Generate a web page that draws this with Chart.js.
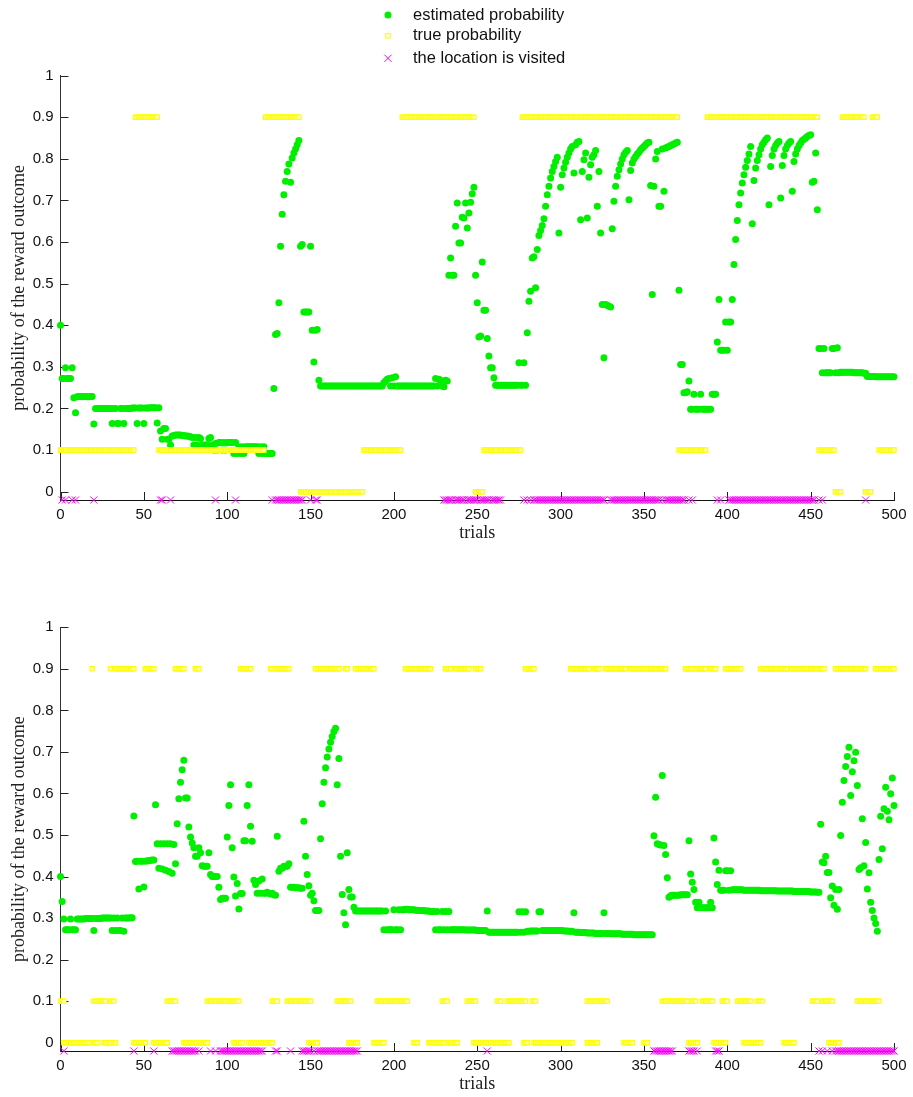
<!DOCTYPE html>
<html>
<head>
<meta charset="utf-8">
<script src="https://cdn.jsdelivr.net/npm/chart.js@4/dist/chart.umd.min.js"></script>
<style>
html, body { margin: 0; padding: 0; background: #fff; }
#wrap { position: relative; width: 913px; height: 1097px; }
.panel { position: absolute; left: 0; width: 913px; }
#top { top: 0; height: 551px; }
#bottom { top: 551px; height: 546px; }
</style>
</head>
<body>
<div id="wrap">
  <div class="panel" id="top"><canvas id="chart-top"></canvas></div>
  <div class="panel" id="bottom"><canvas id="chart-bottom"></canvas></div>
</div>
<script>
// axis ticks
const xTicks = [0, 50, 100, 150, 200, 250, 300, 350, 400, 450, 500];
const yTicks = [0, 0.1, 0.2, 0.3, 0.4, 0.5, 0.6, 0.7, 0.8, 0.9, 1];
const legendLabels = ['estimated probability', 'true probability', 'the location is visited'];
const visitedLevel = -0.02;

// estimated probability, one value per trial (0..500) - top panel
const estTop = [
  .40,.272,.272,.298,.272,.272,.272,.298,.226,.19,
  .228,.229,.229,.228,.229,.229,.228,.228,.229,.229,
  .163,.2,.2,.2,.2,.2,.2,.2,.2,.2,
  .2,.164,.2,.2,.164,.164,.2,.2,.164,.2,
  .2,.2,.2,.201,.201,.201,.164,.201,.201,.201,
  .164,.201,.201,.201,.202,.202,.202,.202,.165,.202,
  .146,.126,.152,.152,.126,.126,.112,.134,.135,.136,
  .136,.136,.136,.135,.135,.134,.134,.133,.132,.13,
  .112,.13,.112,.13,.128,.112,.112,.112,.112,.128,
  .13,.112,.1,.116,.1,.118,.118,.1,.118,.1,
  .118,.118,.118,.118,.092,.118,.092,.108,.092,.108,
  .092,.108,.108,.108,.108,.108,.108,.108,.108,.092,
  .108,.092,.108,.092,.092,.092,.092,.092,.248,.378,
  .38,.454,.59,.667,.714,.746,.77,.788,.744,.802,
  .814,.824,.834,.844,.59,.594,.432,.432,.432,.432,
  .59,.388,.312,.388,.39,.268,.254,.254,.254,.254,
  .254,.254,.254,.254,.254,.254,.254,.254,.254,.254,
  .254,.254,.254,.254,.254,.254,.254,.254,.254,.254,
  .254,.254,.254,.254,.254,.254,.254,.254,.254,.254,
  .254,.254,.254,.254,.262,.266,.27,.272,.254,.274,
  .254,.276,.254,.254,.254,.254,.254,.254,.254,.254,
  .254,.254,.254,.254,.254,.254,.254,.254,.254,.254,
  .254,.254,.254,.254,.254,.272,.254,.27,.268,.254,
  .252,.268,.266,.52,.562,.52,.52,.638,.694,.598,
  .598,.66,.658,.694,.634,.67,.696,.716,.732,.52,
  .454,.372,.374,.552,.436,.436,.368,.326,.298,.298,
  .274,.256,.256,.256,.256,.256,.256,.256,.256,.256,
  .256,.256,.256,.256,.256,.31,.256,.256,.31,.256,
  .382,.458,.482,.562,.565,.49,.582,.616,.628,.64,
  .656,.686,.714,.734,.754,.77,.782,.794,.804,.622,
  .732,.762,.778,.792,.804,.814,.824,.83,.766,.834,
  .84,.842,.654,.77,.798,.814,.658,.756,.786,.804,
  .81,.82,.686,.77,.622,.45,.322,.45,.448,.446,
  .444,.632,.698,.734,.758,.774,.788,.8,.81,.816,
  .82,.702,.772,.79,.8,.806,.812,.816,.822,.826,
  .83,.834,.838,.84,.736,.474,.734,.8,.818,.686,
  .686,.824,.722,.826,.828,.83,.832,.834,.836,.838,
  .84,.484,.306,.306,.238,.238,.24,.266,.198,.198,
  .234,.198,.198,.198,.234,.198,.198,.198,.198,.198,
  .198,.234,.234,.234,.36,.462,.34,.34,.34,.408,
  .34,.408,.408,.462,.546,.606,.652,.69,.718,.742,
  .762,.78,.796,.812,.83,.644,.748,.778,.796,.81,
  .824,.834,.84,.846,.85,.69,.782,.808,.824,.832,
  .838,.842,.706,.784,.808,.824,.832,.838,.842,.722,
  .794,.812,.824,.832,.838,.844,.847,.85,.854,.856,
  .858,.744,.746,.814,.678,.344,.344,.286,.344,.286,
  .286,.286,.286,.344,.344,.286,.346,.286,.287,.287,
  .287,.287,.287,.287,.287,.287,.286,.286,.286,.286,
  .286,.286,.285,.285,.277,.277,.277,.277,.277,.276,
  .276,.276,.276,.276,.276,.276,.276,.276,.276,.276,
  .276
];

// true probability runs [first trial, last trial] - top panel
const trueTopHigh = [[45,58],[123,143],[205,248],[277,370],[388,454],[469,482],[487,490]];
const trueTopLow = [[0,44],[59,122],[182,204],[254,276],[371,387],[455,464],[491,500]];
const trueTopZero = [[144,181],[249,253],[465,468],[483,486]];

// visited trials runs - top panel
const visitedTop = [[1,1],[3,3],[7,7],[9,9],[20,20],[60,61],[66,66],[93,93],[105,105],[127,127],
  [129,145],[150,150],[153,154],[230,235],[237,242],[244,250],[252,257],[259,264],[278,278],
  [280,280],[282,282],[284,326],[330,359],[361,361],[363,374],[377,377],[379,379],[394,394],
  [396,396],[401,452],[455,455],[457,457],[483,483]];

// estimated probability - bottom panel
const estBottom = [
  .40,.34,.298,.272,.272,.272,.298,.272,.272,.272,
  .298,.298,.298,.298,.298,.299,.299,.299,.299,.299,
  .27,.299,.299,.299,.299,.3,.3,.3,.3,.3,
  .3,.27,.3,.27,.3,.27,.27,.3,.268,.3,
  .3,.3,.301,.301,.546,.436,.437,.37,.437,.437,
  .375,.437,.438,.438,.439,.44,.44,.573,.479,.42,
  .479,.418,.479,.415,.479,.412,.479,.408,.477,.431,
  .527,.587,.627,.657,.68,.589,.589,.519,.495,.481,
  .469,.449,.449,.469,.457,.426,.425,.425,.425,.457,
  .405,.4,.4,.4,.4,.374,.345,.348,.348,.348,
  .495,.571,.621,.469,.399,.353,.383,.322,.359,.359,
  .486,.486,.571,.621,.521,.485,.391,.381,.36,.389,
  .36,.394,.36,.36,.362,.36,.358,.36,.356,.355,
  .497,.413,.42,.42,.425,.425,.425,.431,.374,.374,
  .374,.373,.373,.373,.372,.372,.533,.449,.405,.378,
  .355,.36,.342,.318,.318,.318,.491,.575,.627,.662,
  .688,.707,.723,.737,.749,.757,.621,.684,.449,.357,
  .313,.284,.457,.369,.351,.351,.326,.317,.317,.317,
  .317,.317,.317,.317,.317,.317,.317,.317,.317,.317,
  .317,.317,.317,.317,.272,.317,.272,.272,.272,.272,
  .32,.272,.272,.32,.272,.32,.32,.321,.321,.32,
  .32,.32,.32,.319,.319,.318,.318,.318,.318,.317,
  .317,.317,.316,.316,.316,.272,.316,.272,.272,.316,
  .272,.316,.272,.316,.272,.272,.272,.272,.272,.272,
  .272,.272,.272,.271,.271,.271,.271,.271,.271,.271,
  .27,.27,.27,.27,.27,.27,.317,.266,.266,.266,
  .266,.266,.266,.266,.266,.266,.266,.266,.266,.266,
  .266,.266,.266,.266,.266,.315,.266,.315,.266,.315,
  .268,.268,.269,.269,.269,.269,.269,.315,.315,.27,
  .27,.27,.27,.27,.27,.27,.27,.27,.27,.27,
  .27,.27,.269,.269,.269,.268,.268,.268,.313,.266,
  .266,.266,.265,.265,.265,.265,.264,.264,.264,.264,
  .264,.263,.263,.263,.263,.263,.313,.263,.263,.263,
  .262,.262,.262,.262,.262,.262,.262,.261,.261,.261,
  .261,.261,.261,.261,.26,.26,.26,.26,.26,.26,
  .26,.26,.26,.26,.26,.26,.498,.591,.479,.477,
  .476,.643,.475,.453,.397,.35,.354,.355,.355,.355,
  .355,.355,.356,.356,.356,.356,.356,.486,.406,.386,
  .369,.338,.325,.338,.325,.325,.325,.325,.325,.325,
  .338,.325,.493,.435,.381,.415,.367,.367,.367,.414,
  .414,.367,.414,.368,.368,.368,.368,.368,.368,.368,
  .367,.367,.367,.367,.367,.367,.367,.367,.367,.367,
  .366,.366,.366,.366,.366,.366,.366,.366,.366,.366,
  .365,.365,.365,.365,.365,.365,.365,.365,.365,.365,
  .364,.364,.364,.364,.364,.364,.364,.364,.364,.364,
  .363,.363,.363,.363,.362,.362,.526,.435,.433,.449,
  .41,.41,.349,.377,.331,.369,.321,.369,.499,.579,
  .631,.665,.689,.711,.595,.652,.679,.699,.619,.417,
  .421,.539,.426,.482,.37,.409,.338,.318,.3,.287,
  .268,.441,.545,.467,.563,.615,.557,.537,.599,.637,
  .571
];

const trueBottomHigh = [[19,19],[30,30],[33,44],[51,56],[69,74],[81,83],[108,114],[126,127],[129,137],
  [153,167],[171,172],[177,188],[207,222],[231,234],[237,245],[249,252],[279,284],[306,317],[320,323],
  [327,339],[342,363],[375,379],[381,387],[390,393],[399,408],[420,436],[438,458],[465,483],[489,500]];
const trueBottomLow = [[0,2],[20,27],[30,32],[64,69],[88,107],[127,130],[136,150],[166,174],[190,208],
  [229,232],[244,249],[262,264],[268,279],[283,285],[316,328],[361,376],[379,381],[385,391],[397,400],
  [406,414],[418,421],[451,454],[457,463],[478,491]];
const trueBottomZero = [[2,17],[20,22],[26,30],[32,33],[44,51],[56,64],[74,88],[104,109],[113,127],
  [149,154],[173,178],[188,194],[212,214],[221,230],[233,238],[248,269],[278,280],[284,307],[316,322],
  [338,343],[350,352],[377,382],[392,399],[410,420],[434,440],[461,467]];

const visitedBottom = [[2,2],[44,44],[56,56],[67,81],[83,83],[90,90],[93,93],[96,121],[129,130],
  [138,138],[145,150],[152,152],[154,178],[256,256],[356,367],[377,380],[382,382],[393,395],
  [455,455],[457,457],[460,460],[463,463],[465,500]];

function seriesPoints(values) {
  return values.map((v, i) => ({x: i, y: v}));
}

function runPoints(runs, value) {
  let pts = [];
  runs.forEach(([a, b]) => {
    for (let t = a; t <= b; t++) pts.push({x: t, y: value});
  });
  return pts;
}

const sansFont = "'Liberation Sans', Arial, sans-serif";
const serifFont = "'Liberation Serif', 'Times New Roman', serif";
const green = '#00ee00';
const yellow = '#ffff00';
const magenta = '#ff00ff';

// short ticks pointing into the plot
const inwardTicks = {
  id: 'inwardTicks',
  beforeDatasetsDraw(chart) {
    const {ctx, chartArea, scales} = chart;
    ctx.save();
    ctx.strokeStyle = '#222';
    ctx.lineWidth = 1;
    ctx.beginPath();
    xTicks.forEach(v => {
      let px = Math.round(scales.x.getPixelForValue(v)) + 0.5;
      ctx.moveTo(px, chartArea.bottom);
      ctx.lineTo(px, chartArea.bottom - 8);
    });
    yTicks.forEach(v => {
      let py = Math.round(scales.y.getPixelForValue(v)) + 0.5;
      ctx.moveTo(chartArea.left, py);
      ctx.lineTo(chartArea.left + 8, py);
    });
    ctx.stroke();
    ctx.restore();
  }
};

// legend stacked above the top panel
const stackedLegend = {
  id: 'stackedLegend',
  afterDraw(chart, args, opts) {
    if (!opts.show) return;
    const ctx = chart.ctx;
    const mx = 388, tx = 413;
    const rows = [15, 35.7, 58.3];
    ctx.save();
    ctx.fillStyle = green;
    ctx.beginPath();
    ctx.arc(mx, rows[0], 3.5, 0, Math.PI * 2);
    ctx.fill();
    ctx.strokeStyle = yellow;
    ctx.fillStyle = '#fff';
    ctx.lineWidth = 1.2;
    ctx.fillRect(mx - 2.2, rows[1] - 2.2, 4.4, 4.4);
    ctx.strokeRect(mx - 2.2, rows[1] - 2.2, 4.4, 4.4);
    ctx.strokeStyle = magenta;
    ctx.lineWidth = 1;
    ctx.beginPath();
    ctx.moveTo(mx - 3.6, rows[2] - 3.6); ctx.lineTo(mx + 3.6, rows[2] + 3.6);
    ctx.moveTo(mx + 3.6, rows[2] - 3.6); ctx.lineTo(mx - 3.6, rows[2] + 3.6);
    ctx.stroke();
    ctx.fillStyle = '#111';
    ctx.font = "16.5px " + sansFont;
    ctx.textAlign = 'left';
    ctx.textBaseline = 'middle';
    legendLabels.forEach((label, i) => ctx.fillText(label, tx, rows[i]));
    ctx.restore();
  }
};

function makeChart(canvasId, est, high, low, zero, visited, padTop, padBottom, showLegend) {
  const ctx = document.getElementById(canvasId).getContext('2d');
  return new Chart(ctx, {
    type: 'scatter',
    data: {
      datasets: [
        {
          label: legendLabels[2],
          data: runPoints(visited, visitedLevel),
          pointStyle: 'crossRot',
          pointRadius: 5,
          borderColor: magenta,
          backgroundColor: magenta,
          borderWidth: 1,
          clip: false,
          order: 1
        },
        {
          label: legendLabels[1],
          data: runPoints(high, 0.9).concat(runPoints(low, 0.1), runPoints(zero, 0)),
          pointStyle: 'rect',
          pointRadius: 3,
          borderColor: yellow,
          backgroundColor: '#ffffd0',
          borderWidth: 1.2,
          clip: false,
          order: 2
        },
        {
          label: legendLabels[0],
          data: seriesPoints(est),
          pointStyle: 'circle',
          pointRadius: 3.5,
          borderWidth: 0,
          backgroundColor: green,
          clip: false,
          order: 3
        }
      ]
    },
    options: {
      responsive: true,
      maintainAspectRatio: false,
      animation: false,
      events: [],
      layout: {padding: {top: padTop, bottom: padBottom, left: 0, right: 19}},
      plugins: {
        legend: {display: false},
        tooltip: {enabled: false},
        stackedLegend: {show: showLegend}
      },
      scales: {
        x: {
          type: 'linear',
          position: 'bottom',
          min: 0,
          max: 500,
          afterBuildTicks: s => { s.ticks = xTicks.map(v => ({value: v})); },
          afterFit: s => { s.height = 46; },
          grid: {display: false, drawTicks: false},
          border: {display: true, color: '#111', width: 1},
          ticks: {color: '#111', padding: 6, maxRotation: 0, autoSkip: false,
                  font: {family: sansFont, size: 15}},
          title: {display: true, text: 'trials', color: '#222',
                  font: {family: serifFont, size: 18}, padding: {top: 0, bottom: 2}}
        },
        y: {
          type: 'linear',
          min: -0.02,
          max: 1,
          afterBuildTicks: s => { s.ticks = yTicks.map(v => ({value: v})); },
          afterFit: s => { s.width = 60.5; },
          grid: {display: false, drawTicks: false},
          border: {display: true, color: '#333', width: 1},
          ticks: {color: '#111', padding: 7, autoSkip: false,
                  font: {family: sansFont, size: 15},
                  callback: v => String(Math.round(v * 10) / 10)},
          title: {display: true, text: 'probability of the reward outcome', color: '#222',
                  font: {family: serifFont, size: 18}, padding: {top: 8, bottom: 0}}
        }
      }
    },
    plugins: [inwardTicks, stackedLegend]
  });
}

makeChart('chart-top', estTop, trueTopHigh, trueTopLow, trueTopZero, visitedTop, 75.7, 5, true);
makeChart('chart-bottom', estBottom, trueBottomHigh, trueBottomLow, trueBottomZero, visitedBottom, 76.3, 0, false);
</script>
</body>
</html>
